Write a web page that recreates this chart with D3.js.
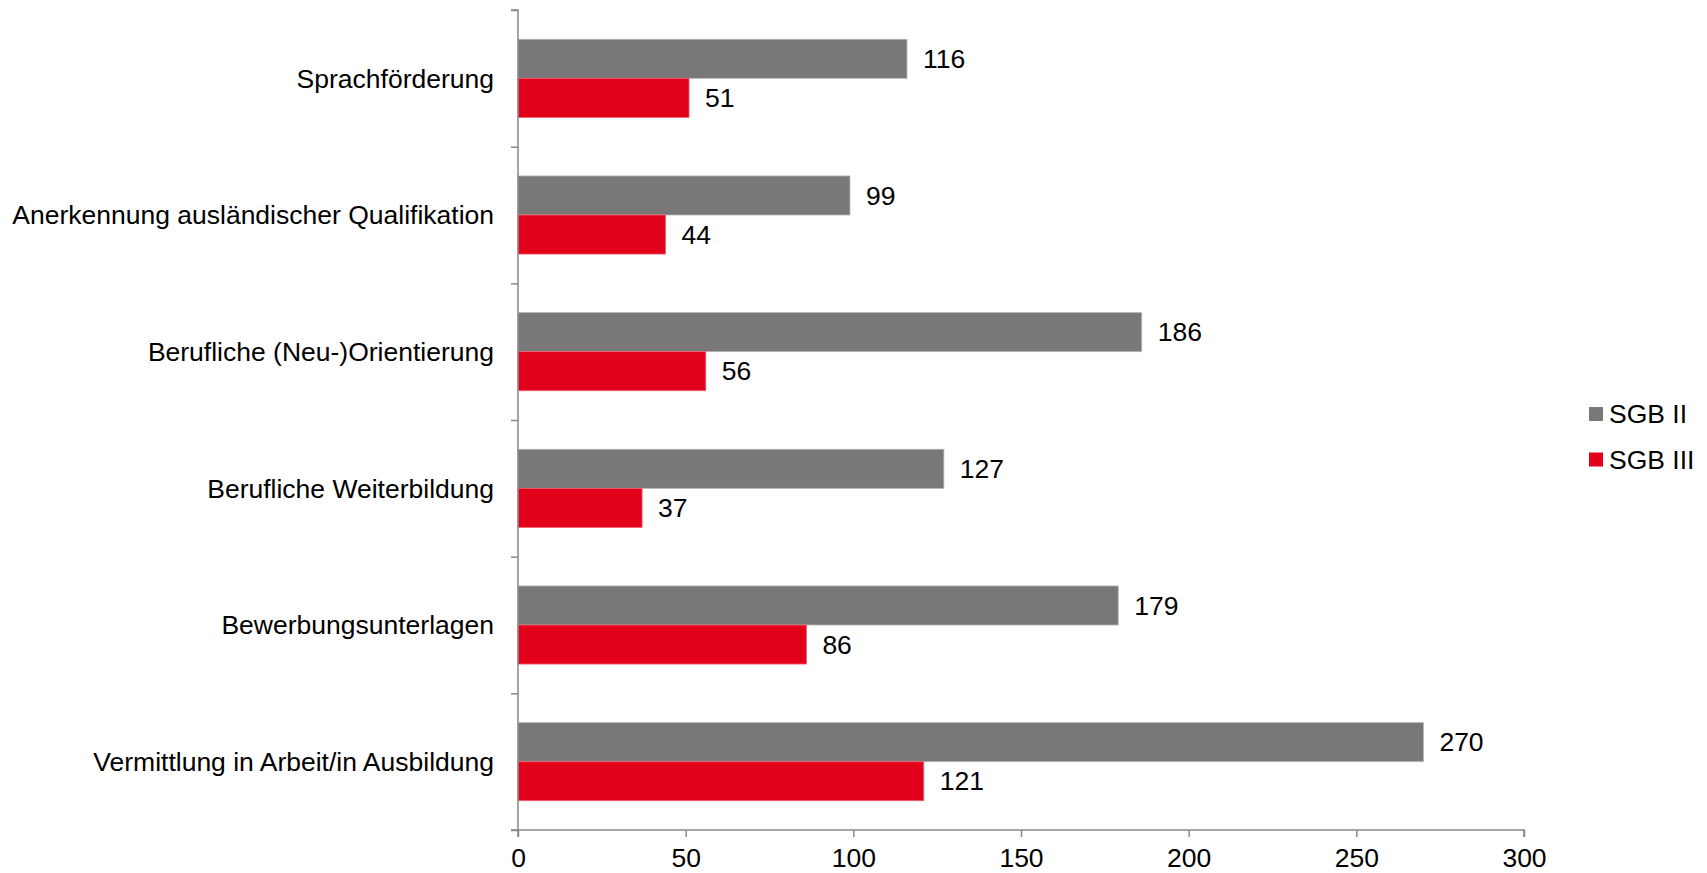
<!DOCTYPE html>
<html>
<head>
<meta charset="utf-8">
<script src="https://cdn.jsdelivr.net/npm/d3@7"></script>
<style>
  body { margin: 0; background: #fff; }
  text { font-family: "Liberation Sans", Arial, sans-serif; fill: #000; }
</style>
</head>
<body>
<svg id="chart" width="1707" height="873"></svg>
<script>
var categories = [
    "Sprachförderung",
    "Anerkennung ausländischer Qualifikation",
    "Berufliche (Neu-)Orientierung",
    "Berufliche Weiterbildung",
    "Bewerbungsunterlagen",
    "Vermittlung in Arbeit/in Ausbildung"
];
var seriesNames = ["SGB II", "SGB III"];
var sgb2 = [116, 99, 186, 127, 179, 270];
var sgb3 = [51, 44, 56, 37, 86, 121];
var xTicks = [0, 50, 100, 150, 200, 250, 300];
var colors = ["#787878", "#e2001a"];

var svg = d3.select("#chart");

// plot area edges (don't use "top" - it's window.top)
var plotLeft = 518, plotRight = 1524, plotTop = 10, plotBottom = 830;
var fontSize = 26.5;

var x = d3.scaleLinear().domain([0, 300]).range([plotLeft, plotRight]);
var y = d3.scaleBand().domain(categories).range([plotTop, plotBottom]).padding(0);
var ySub = d3.scaleBand().domain(seriesNames).range([0, y.bandwidth()])
    .paddingInner(0).paddingOuter(0.75);
// index scale just for the tick marks between categories
var yIdx = d3.scaleLinear().domain([0, categories.length]).range([plotTop, plotBottom]);

var rows = categories.map((c, i) => ({ cat: c, vals: [sgb2[i], sgb3[i]] }));

// bars + value labels
rows.forEach(r => {
    r.vals.forEach((v, j) => {
        var by = y(r.cat) + ySub(seriesNames[j]);
        svg.append("rect")
            .attr("x", x(0))
            .attr("y", by)
            .attr("width", x(v) - x(0))
            .attr("height", ySub.bandwidth())
            .attr("fill", colors[j])
            .attr("stroke", j == 0 ? "#b5b5b5" : "#f06070")
            .attr("stroke-width", 0.8);

        svg.append("text")
            .attr("x", x(v) + 16)
            .attr("y", by + ySub.bandwidth() / 2)
            .attr("dy", "0.35em")
            .style("font-size", fontSize + "px")
            .text(v);
    });
});

// y axis (ticks only, labels drawn separately)
var yAxis = svg.append("g")
    .attr("transform", `translate(${plotLeft},0)`)
    .call(d3.axisLeft(yIdx).ticks(categories.length).tickSize(7).tickFormat(""));
yAxis.select(".domain").attr("stroke", "#888").attr("stroke-width", 1.5)
    .attr("d", `M-7,${plotTop}H0V${plotBottom + 7}`);
yAxis.selectAll(".tick line").attr("stroke", "#888").attr("stroke-width", 1.5);

svg.selectAll(".cat-label")
    .data(categories)
    .enter().append("text")
    .attr("class", "cat-label")
    .attr("x", plotLeft - 24)
    .attr("y", d => y(d) + y.bandwidth() / 2)
    .attr("dy", "0.35em")
    .attr("text-anchor", "end")
    .style("font-size", fontSize + "px")
    .text(d => d);

// x axis
var xAxis = svg.append("g")
    .attr("transform", `translate(0,${plotBottom})`)
    .call(d3.axisBottom(x).tickValues(xTicks).tickSize(7).tickPadding(11));
xAxis.select(".domain").attr("stroke", "#888").attr("stroke-width", 1.5)
    .attr("d", `M${plotLeft - 7},0H${plotRight}V7`);
xAxis.selectAll(".tick line").attr("stroke", "#888").attr("stroke-width", 1.5);
xAxis.selectAll(".tick text")
    .style("font-size", fontSize + "px")
    .style("font-family", "'Liberation Sans', Arial, sans-serif")
    .attr("fill", "#000");

// legend
var legend = svg.append("g").attr("transform", "translate(1589,407)");
seriesNames.forEach((s, i) => {
    var g = legend.append("g").attr("transform", `translate(0,${i * 45.5})`);
    g.append("rect")
        .attr("width", 14).attr("height", 14)
        .attr("fill", colors[i]);
    g.append("text")
        .attr("x", 20)
        .attr("y", 7)
        .attr("dy", "0.35em")
        .style("font-size", fontSize + "px")
        .text(s);
});
</script>
</body>
</html>
